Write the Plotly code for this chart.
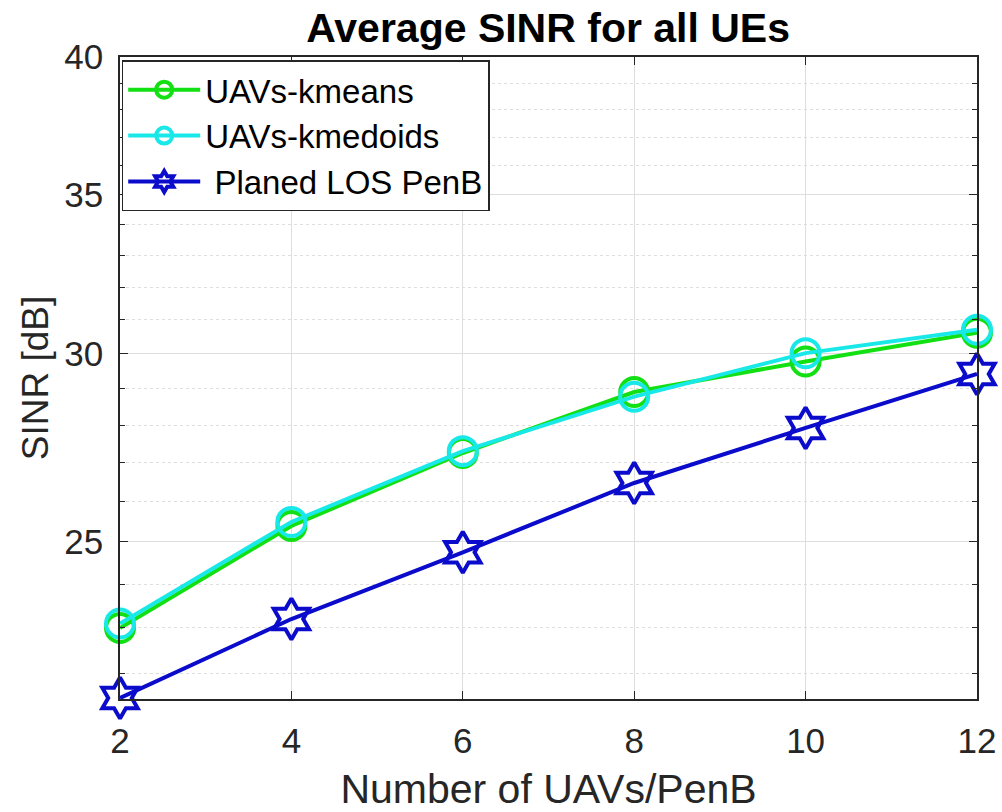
import math
import plotly.graph_objects as go

# Number of UAVs / PenBs deployed
n_nodes = [2, 4, 6, 8, 10, 12]

# Average SINR (dB) for all UEs
sinr_kmeans = [23.0, 25.39, 27.25, 28.91, 29.78, 30.62]
sinr_kmedoids = [23.1, 25.49, 27.3, 28.78, 30.02, 30.71]
sinr_planed = [21.49, 23.20, 24.75, 26.47, 27.92, 29.42]

x_ticks = [2, 4, 6, 8, 10, 12]
y_ticks = [25, 30, 35, 40]
y_minor = [22, 23, 24, 26, 27, 28, 29, 31, 32, 33, 34, 36, 37, 38, 39]

FONT = "Liberation Sans, Arial, sans-serif"
AX = "#262626"
GRID = "#dedede"

fig = go.Figure()

series = [
    ("UAVs-kmeans", sinr_kmeans, "#12e012", "circle-open", 28),
    ("UAVs-kmedoids", sinr_kmedoids, "#18e8e8", "circle-open", 28),
    ("\u00a0Planed LOS PenB", sinr_planed, "#0b0bcc", "hexagram-open", 31),
]
for name, vals, color, symbol, size in series:
    fig.add_trace(go.Scatter(
        x=n_nodes, y=vals, name=name, mode="lines+markers",
        line=dict(color=color, width=4),
        marker=dict(symbol=symbol, size=size, color=color,
                    line=dict(color=color, width=4)),
        cliponaxis=False,
    ))

fig.update_layout(
    width=1002, height=812,
    margin=dict(l=120, r=25, t=57, b=113, autoexpand=False),
    paper_bgcolor="white", plot_bgcolor="white",
    font=dict(family=FONT, color=AX),
    title=dict(text="<b>Average SINR for all UEs</b>", x=0.547, xanchor="center",
               y=0.966, yanchor="middle",
               font=dict(family=FONT, size=41, color="black")),
    legend=dict(x=0.002, y=0.995, xanchor="left", yanchor="top",
                bgcolor="white", bordercolor="#262626", borderwidth=1.5,
                font=dict(family=FONT, size=33, color="black"),
                tracegroupgap=0, itemwidth=72),
    showlegend=True,
)

fig.update_xaxes(
    range=[2, 12], tickvals=x_ticks, ticktext=[str(v) for v in x_ticks],
    showline=True, linecolor=AX, linewidth=1.5, mirror="ticks",
    ticks="inside", ticklen=8, tickwidth=1.2, tickcolor=AX,
    showgrid=True, gridcolor=GRID, gridwidth=1, automargin=False,
    tickfont=dict(family=FONT, size=35, color=AX), ticklabelstandoff=10,
    title=dict(text="Number of UAVs/PenB", standoff=20,
               font=dict(family=FONT, size=41, color=AX)),
    zeroline=False,
)

fig.update_yaxes(
    type="log", range=[math.log10(21.47), math.log10(40)],
    tickmode="array", tickvals=y_ticks, ticktext=[str(v) for v in y_ticks],
    showline=True, linecolor=AX, linewidth=1.5, mirror="ticks",
    ticks="inside", ticklen=8, tickwidth=1.2, tickcolor=AX,
    showgrid=True, gridcolor=GRID, gridwidth=1, automargin=False,
    minor=dict(tickmode="array", tickvals=y_minor, ticks="inside", ticklen=5,
               tickcolor=AX, showgrid=True, gridcolor=GRID, griddash="dot",
               gridwidth=1),
    tickfont=dict(family=FONT, size=35, color=AX), ticklabelstandoff=8,
    title=dict(text="SINR [dB]", standoff=4,
               font=dict(family=FONT, size=37, color=AX)),
    zeroline=False,
)

fig.write_html("out.html")
